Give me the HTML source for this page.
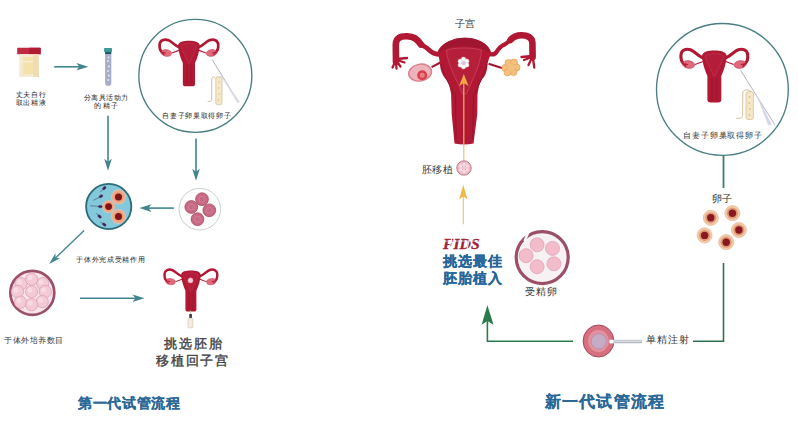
<!DOCTYPE html><html><head><meta charset="utf-8"><style>
html,body{margin:0;padding:0;background:#fff;width:798px;height:444px;overflow:hidden;font-family:"Liberation Sans",sans-serif}
.t{position:absolute;white-space:nowrap;line-height:1}
svg{position:absolute;left:0;top:0}
</style></head><body>
<svg width="798" height="444" viewBox="0 0 798 444">
<defs>
<symbol id="ut" viewBox="388 30 152 118">
  <!-- left tube -->
  <path d="M440,54.5 C435,54.5 431.5,52.5 428.5,49.5 C425.5,46.5 422.5,46 419.5,43" fill="none" stroke="#b01833" stroke-width="4.6" stroke-linecap="round"/>
  <path d="M421,44.5 C417,39 414,36.5 407,36.3 C400,36.1 395.8,38 395.8,45 L396,62" fill="none" stroke="#b01833" stroke-width="6.6" stroke-linecap="round" stroke-linejoin="round"/>
  <path d="M395.5,61 L392.5,67.5 M396,61 L396.5,68.5 M396.5,61 L400.5,66.5 M397,60 L404.5,62.5 M397,59 L407,58" stroke="#b01833" stroke-width="2.3" stroke-linecap="round"/>
  <!-- right tube -->
  <path d="M489,53.7 C492,55 494.5,55 496.5,52 C498.5,49 501,46 504,44.8 C507,43.5 509,41 512,38.5" fill="none" stroke="#b01833" stroke-width="4.2" stroke-linecap="round"/>
  <path d="M510.5,40 C513,37 516,35.2 521.5,35.2 C527,35.2 532.2,37 532.4,43 L532.6,57" fill="none" stroke="#b01833" stroke-width="6.6" stroke-linecap="round" stroke-linejoin="round"/>
  <path d="M532.6,56 L534.3,67.5 M532.3,57 L528.5,65 M532,57 L524,60 M532,56 L521.5,57" stroke="#b01833" stroke-width="2.3" stroke-linecap="round"/>
  <!-- ligaments -->
  <path d="M440.4,62.5 L431.6,67.2" stroke="#a01630" stroke-width="2"/>
  <path d="M488.6,63.8 L503.5,68.5" stroke="#a01630" stroke-width="2"/>
  <!-- ovaries -->
  <ellipse cx="420.1" cy="72.6" rx="11.5" ry="8.4" transform="rotate(-10 420.1 72.6)" fill="#efb4bb" stroke="#d67e8c" stroke-width="1.4"/>
  <circle cx="422.2" cy="75.3" r="5" fill="#d8404e"/>
  <circle cx="422.2" cy="75.3" r="2.5" fill="#ef7e84"/>
  <g fill="#f3c07e" stroke="#e6a460" stroke-width="0.8">
    <circle cx="505.5" cy="68" r="3.6"/><circle cx="508.5" cy="63" r="3.5"/><circle cx="514" cy="62.5" r="3.5"/><circle cx="516.5" cy="67.5" r="3.5"/><circle cx="513.5" cy="72" r="3.5"/><circle cx="507.5" cy="72.5" r="3.4"/><circle cx="511" cy="67.5" r="3.4" stroke="none"/>
  </g>
  <!-- body -->
  <path d="M437.5,52 C440,44 452,37.7 465,37.7 C478,37.7 489,44 491.5,53 C489,58 487.5,62 487.2,67.4 C486.5,73 484.5,77 482.7,78.2 C480.5,81 479,84 477.5,94.5 L477.3,114 L473.5,143.5 Q464,145.5 454.5,143.5 L451.7,114 L451.1,94.5 C450,86 448,81 445,78.2 C442.5,75 441,71 440.3,67.4 C440,62 439,57 437.5,52 Z" fill="#b01833"/>
  <path d="M438.5,51.5 C441,44 452,37.7 465,37.7 C478,37.7 489,44 490.5,52 L484,50 C478,47 470,46 464,46 C456,46 450,47 444,50 Z" fill="#a01631"/>
  <path d="M446.5,50 C452,48.5 458,48 464,48 C470,48 476,48.5 481.5,50 C481,64 472,80 466.5,94 L462.5,94 C457,80 447,64 446.5,50 Z" fill="#b51f3a" stroke="#c8405a" stroke-width="0.9"/>
  <path d="M441,64 C444,76 450,86 455.5,96 L456,140 M487,64 C484,76 478,86 473.5,96 L472.5,140" fill="none" stroke="#961430" stroke-width="1"/>
</symbol>
<symbol id="ut2" viewBox="677 46 75 58">
  <g id="ut2half">
  <path d="M703.5,58 C699,57 695,51.5 690.5,49.8 C686,48.4 681.5,50 681,54.5 C680.6,58.5 681.3,61.8 684,64" fill="none" stroke="#b01833" stroke-width="3.1" stroke-linecap="round"/>
  <path d="M703,61.5 L695,64.5" stroke="#b01833" stroke-width="1.3"/>
  <ellipse cx="688.6" cy="64.5" rx="6" ry="3.8" transform="rotate(8 688.6 64.5)" fill="#e06a7a" stroke="#c44058" stroke-width="0.7"/>
  <path d="M683,63.5 L686,66.5 M683,63.5 L687.5,64.5" stroke="#b01833" stroke-width="1.2" stroke-linecap="round"/>
  </g>
  <use href="#ut2half" transform="translate(1428.7 0) scale(-1 1)"/>
  <path d="M702,55.5 C703,51.5 708,50.5 714.35,50.5 C720.7,50.5 725.7,51.5 726.7,55.5 C726.5,63 724,70 721.3,76 L721.3,99.5 Q721.5,102.5 718,102.5 L710.7,102.5 Q707.2,102.5 707.4,99.5 L707.4,76 C704.7,70 702.2,63 702,55.5 Z" fill="#b01833"/>
  <path d="M705,56 C708,54 712,53.5 714.35,53.5 C716.7,53.5 720.7,54 723.7,56 C722,63 717,70 715.2,76 L713.5,76 C711.7,70 706.7,63 705,56 Z" fill="#b41d3a" stroke="#c8405a" stroke-width="0.5"/>
  <path d="M712,78 L712,100 M716.7,78 L716.7,100" stroke="#951430" stroke-width="0.7"/>
</symbol>
<symbol id="embryo" viewBox="-8 -8 16 16">
  <circle r="7.2" fill="#f2bfcc" stroke="#b86a80" stroke-width="0.9"/>
  <g fill="#fae4ea" stroke="#e4a4b6" stroke-width="0.4">
  <circle cx="0" cy="-3.7" r="1.9"/><circle cx="3.2" cy="-1.85" r="1.9"/><circle cx="3.2" cy="1.85" r="1.9"/><circle cx="0" cy="3.7" r="1.9"/><circle cx="-3.2" cy="1.85" r="1.9"/><circle cx="-3.2" cy="-1.85" r="1.9"/>
  </g>
  <circle r="1.7" fill="#f4c8d4"/>
</symbol>
<symbol id="flower" viewBox="-8 -8 16 16">
  <g fill="#fff" stroke="#e6c8d4" stroke-width="0.5">
  <circle cx="0" cy="-4" r="2.4"/><circle cx="3.46" cy="-2" r="2.4"/><circle cx="3.46" cy="2" r="2.4"/><circle cx="0" cy="4" r="2.4"/><circle cx="-3.46" cy="2" r="2.4"/><circle cx="-3.46" cy="-2" r="2.4"/>
  </g>
  <circle r="2.4" fill="#d8c8dc"/>
</symbol>
<radialGradient id="eggglow"><stop offset="0.45" stop-color="#ec9470"/><stop offset="0.8" stop-color="#f0ae8c"/><stop offset="1" stop-color="#f2c4ae" stop-opacity="0.6"/></radialGradient>
</defs>

<line x1="54.20" y1="66.80" x2="79.90" y2="66.80" stroke="#43858f" stroke-width="1.6"/><path d="M88.40,66.80 L76.40,70.60 L79.40,66.80 L76.40,63.00 Z" fill="#43858f"/><line x1="108.00" y1="115.80" x2="108.00" y2="162.30" stroke="#43858f" stroke-width="1.6"/><path d="M108.00,170.80 L104.20,158.80 L108.00,161.80 L111.80,158.80 Z" fill="#43858f"/><line x1="196.00" y1="138.60" x2="196.00" y2="172.20" stroke="#43858f" stroke-width="1.6"/><path d="M196.00,180.70 L192.20,168.70 L196.00,171.70 L199.80,168.70 Z" fill="#43858f"/><line x1="173.90" y1="208.10" x2="147.90" y2="208.10" stroke="#43858f" stroke-width="1.6"/><path d="M139.40,208.10 L151.40,204.30 L148.40,208.10 L151.40,211.90 Z" fill="#43858f"/><line x1="84.10" y1="230.60" x2="55.24" y2="258.22" stroke="#43858f" stroke-width="1.35"/><path d="M49.10,264.10 L55.42,253.35 L55.60,257.88 L60.12,258.26 Z" fill="#43858f"/><line x1="80.00" y1="298.20" x2="136.00" y2="298.20" stroke="#43858f" stroke-width="1.6"/><path d="M144.50,298.20 L132.50,302.00 L135.50,298.20 L132.50,294.40 Z" fill="#43858f"/>
<!-- ===== LEFT HALF ===== -->
<!-- cup -->
<rect x="17.2" y="47.8" width="23.5" height="6.5" rx="0.6" fill="#c02a40"/>
<rect x="29" y="47.8" width="11.7" height="6.5" rx="0.6" fill="#b01a32"/>
<rect x="19.3" y="54.3" width="19.6" height="22.6" fill="#f5ead0"/>
<rect x="23" y="57" width="10" height="17" fill="#f3e3aa"/>
<rect x="33" y="55" width="5.9" height="21.9" fill="#f0dcb4"/>
<rect x="20" y="61" width="13" height="1.2" fill="#f8f0dc"/>
<!-- tube -->
<rect x="104.1" y="48.1" width="7.9" height="3.9" rx="0.6" fill="#3a9a98"/>
<rect x="105" y="52" width="6.3" height="2.2" fill="#1f5866"/>
<path d="M105.1,54 L111.3,54 L111.3,83 Q111.3,86 108.2,86 Q105.1,86 105.1,83 Z" fill="#a9aec8"/>
<g fill="#e8ecf4"><circle cx="108.5" cy="57.5" r="0.9"/><circle cx="108" cy="61" r="0.9"/><circle cx="108.8" cy="66.5" r="0.9"/><circle cx="108" cy="71" r="0.9"/><circle cx="108.8" cy="75.5" r="0.9"/><circle cx="108.2" cy="80" r="0.9"/></g>
<!-- left circle -->
<circle cx="195.35" cy="75.85" r="56.5" fill="none" stroke="#4a7e82" stroke-width="1.35"/>
<use href="#ut2" x="156.1" y="36.75" width="65.9" height="50.9"/>
<!-- syringe in circle -->
<line x1="212.2" y1="59.7" x2="238.3" y2="102" stroke="#a8acb8" stroke-width="0.9"/>
<path d="M215.8,67.8 L240,102 L237.5,103 Z" fill="#d8dce4"/>
<rect x="215.8" y="76.8" width="6.2" height="28" rx="2" fill="#f4e8c8" stroke="#c8b488" stroke-width="0.6"/>
<g fill="#e0b878"><circle cx="219" cy="82" r="0.7"/><circle cx="218.5" cy="88" r="0.7"/><circle cx="219.2" cy="94" r="0.7"/><circle cx="218.6" cy="100" r="0.7"/></g>
<path d="M215.5,78 Q212.5,75 211.8,79 L211.6,100 Q211.3,102 207.7,101.5" fill="none" stroke="#c8b488" stroke-width="0.8"/>
<!-- fertilization dish -->
<circle cx="108.7" cy="206.5" r="22.6" fill="#84c8dc" stroke="#2c6a76" stroke-width="1.8"/>
<circle cx="118.5" cy="196.9" r="7.6" fill="url(#eggglow)"/><circle cx="118.5" cy="196.9" r="3.5" fill="#7e1418"/>
<circle cx="108.6" cy="206.6" r="6.6" fill="url(#eggglow)"/><circle cx="108.6" cy="206.6" r="3.4" fill="#7e1418"/>
<circle cx="118.5" cy="216.5" r="7.6" fill="url(#eggglow)"/><circle cx="118.5" cy="216.5" r="3.5" fill="#7e1418"/>
<g stroke="#3a3050" stroke-width="0.5" fill="#4a2050">
<path d="M100.3,192.2 L103.3,189.1"/><ellipse cx="104.3" cy="188.1" rx="2" ry="1.2" transform="rotate(-45 104.3 188.1)"/>
<path d="M93.5,200.3 L100,197"/><ellipse cx="101" cy="196.2" rx="2" ry="1.2" transform="rotate(-30 101 196.2)"/>
<path d="M90.1,205.7 L98.5,206.4"/><ellipse cx="100.3" cy="206.6" rx="2" ry="1.2"/>
<path d="M96.2,213.1 L98.5,215.5"/><ellipse cx="99.6" cy="216.5" rx="2" ry="1.2" transform="rotate(40 99.6 216.5)"/>
<path d="M100.3,221.9 L103,223.8"/><ellipse cx="104.3" cy="224.6" rx="2" ry="1.2" transform="rotate(35 104.3 224.6)"/>
</g>
<!-- egg dish -->
<circle cx="199.8" cy="209.2" r="20.8" fill="#fff" stroke="#c8d0d0" stroke-width="1"/>
<g fill="#c86a84" stroke="#a44c66" stroke-width="0.8">
<circle cx="202" cy="199.2" r="6.4"/><circle cx="191.3" cy="207" r="6.4"/><circle cx="209.3" cy="210.3" r="6.4"/><circle cx="197.5" cy="219.2" r="6.4"/>
</g>
<g fill="none" stroke="#d88ca2" stroke-width="0.6">
<circle cx="202" cy="199.2" r="3"/><circle cx="191.3" cy="207" r="3"/><circle cx="209.3" cy="210.3" r="3"/><circle cx="197.5" cy="219.2" r="3"/>
</g>
<!-- morula -->
<circle cx="32.3" cy="292.8" r="22" fill="#f8e4ea" stroke="#9a5068" stroke-width="2.7"/>
<g fill="#f3cad6" stroke="#d89aae" stroke-width="0.7">
<circle cx="21.1" cy="283.6" r="6.1"/><circle cx="42.8" cy="283.6" r="6.1"/><circle cx="31.6" cy="279.3" r="6.1"/>
<circle cx="17.4" cy="291.6" r="6.2"/><circle cx="45.3" cy="291.6" r="6.2"/>
<circle cx="20.5" cy="302.2" r="6.1"/><circle cx="42.2" cy="301.6" r="6.1"/><circle cx="31.6" cy="304.7" r="6.1"/>
<circle cx="31.6" cy="291.6" r="6.1"/>
</g>
<g fill="#fae0e8" opacity="0.8">
<circle cx="19.5" cy="282" r="2.5"/><circle cx="41" cy="282" r="2.5"/><circle cx="30" cy="277.5" r="2.5"/><circle cx="16" cy="290" r="2.5"/><circle cx="43.5" cy="290" r="2.5"/><circle cx="19" cy="300.5" r="2.5"/><circle cx="40.5" cy="300" r="2.5"/><circle cx="30" cy="303" r="2.5"/><circle cx="30" cy="290" r="2.5"/>
</g>
<!-- bottom left uterus -->
<use href="#ut2" x="161.4" y="267" width="59.25" height="45.8"/><circle cx="190.5" cy="280.4" r="2.6" fill="#f4d0d8" stroke="#d87888" stroke-width="0.6"/><line x1="190.5" y1="310.5" x2="190.5" y2="315" stroke="#c8c0b8" stroke-width="0.8"/>
<rect x="189.3" y="314" width="2.6" height="4" fill="#3a3a40"/><rect x="188" y="318.3" width="5" height="9.5" rx="1" fill="#f4ece0" stroke="#cdbba5" stroke-width="0.5"/>

<!-- ===== RIGHT HALF ===== -->
<use href="#ut" x="388" y="30" width="152" height="118"/>
<use href="#flower" x="456" y="55.5" width="15" height="15"/>
<!-- yellow arrow in uterus -->
<line x1="463.8" y1="160.5" x2="463.8" y2="82" stroke="#f6b870" stroke-width="1.15"/>
<path d="M463.8,74 L468.6,86 L463.8,83 L459,86 Z" fill="#f3a848"/>
<use href="#embryo" x="456" y="160" width="16" height="16"/>
<!-- yellow arrow 2 -->
<line x1="463.3" y1="224.3" x2="463.3" y2="195" stroke="#eec070" stroke-width="1.15"/>
<path d="M463.3,184.7 L467.4,199.3 L463.3,196.5 L459.2,199.3 Z" fill="#f0b848"/>

<!-- red glitch text -->
<g>
<text x="443" y="248.6" font-family="Liberation Serif" font-weight="bold" font-style="italic" font-size="15.5" fill="#9e2434" stroke="#9e2434" stroke-width="0.3" textLength="36.6" lengthAdjust="spacingAndGlyphs">FIDS</text>
<path d="M452,237 L449,249 M461,237 L458,249 M470,237 L467,249" stroke="#fff" stroke-width="1.1" opacity="0.9"/>
<rect x="442" y="240.6" width="40" height="0.9" fill="#fff" opacity="0.7"/>
</g>
<!-- zygote dish -->
<circle cx="542.2" cy="257.6" r="26" fill="#f6f2f4" stroke="#9c5068" stroke-width="3.2"/>
<path d="M528.5,232 L524.5,241" stroke="#fff" stroke-width="2.4"/>
<g fill="#f2bccb" stroke="#e09ab0" stroke-width="0.7">
<circle cx="537.1" cy="244.8" r="7"/><circle cx="552.5" cy="248.4" r="7"/><circle cx="526.1" cy="255.7" r="7"/>
<circle cx="537.1" cy="266.7" r="7"/><circle cx="553.9" cy="263.8" r="7"/>
</g>

<!-- green path -->
<path d="M723.5,263 L723.5,341.2 L693,341.2" fill="none" stroke="#2e7050" stroke-width="1.6"/>
<path d="M573,341.2 L487.4,341.2 L487.4,320" fill="none" stroke="#2e7a50" stroke-width="1.6"/>
<path d="M487.4,305.3 L493.5,324.7 L487.4,321 L481.6,324.7 Z" fill="#2a7a4c"/>
<!-- egg injection -->
<ellipse cx="598.5" cy="341" rx="15.4" ry="16" fill="#d6707f" stroke="#a04860" stroke-width="1"/>
<ellipse cx="598.5" cy="341" rx="10.5" ry="11" fill="#e490a0"/>
<circle cx="598.8" cy="341.3" r="7.6" fill="#c4acc4" stroke="#a888a8" stroke-width="0.6"/>
<rect x="610" y="339.8" width="32" height="3.5" fill="#b8bcc4"/>
<rect x="610" y="340.5" width="32" height="1.2" fill="#dfe2e8"/>
<rect x="609.5" y="339.8" width="4" height="3.5" fill="#fff"/>
<!-- right circle -->
<circle cx="722.4" cy="89.4" r="65.9" fill="none" stroke="#4a7e82" stroke-width="1.35"/>
<use href="#ut2" x="677" y="46" width="75" height="58"/>
<line x1="740.6" y1="70.3" x2="774.8" y2="124.8" stroke="#a8acb8" stroke-width="0.9"/>
<path d="M755.6,92.8 L772,125 L768,125 Z" fill="#d4d8e6"/>
<rect x="746" y="91.7" width="7.4" height="27.8" rx="2" fill="#f4e8c8" stroke="#c8b488" stroke-width="0.6"/>
<g fill="#e0a860"><circle cx="749.7" cy="97" r="0.8"/><circle cx="749.2" cy="103" r="0.8"/><circle cx="750" cy="109" r="0.8"/><circle cx="749.4" cy="115" r="0.8"/></g>
<path d="M751,92 Q747,87.5 742.8,91.7 L742.6,116.5 Q742.3,118.5 736.3,118.4" fill="none" stroke="#c8b488" stroke-width="0.8"/>
<line x1="723.5" y1="155.7" x2="723.5" y2="188" stroke="#3a7e6c" stroke-width="1.8"/>
<!-- eggs -->
<g>
<circle cx="710.8" cy="217.8" r="7.6" fill="#f2cba8" stroke="#e0a888" stroke-width="0.5"/><circle cx="710.8" cy="217.8" r="5.6" fill="#df9a78"/><circle cx="710.8" cy="217.8" r="3.7" fill="#8a1820"/>
<circle cx="732.4" cy="213.2" r="7.6" fill="#f2cba8" stroke="#e0a888" stroke-width="0.5"/><circle cx="732.4" cy="213.2" r="5.6" fill="#df9a78"/><circle cx="732.4" cy="213.2" r="3.7" fill="#8a1820"/>
<circle cx="738.9" cy="230" r="7.6" fill="#f2cba8" stroke="#e0a888" stroke-width="0.5"/><circle cx="738.9" cy="230" r="5.6" fill="#df9a78"/><circle cx="738.9" cy="230" r="3.7" fill="#8a1820"/>
<circle cx="704.6" cy="235.4" r="7.6" fill="#f2cba8" stroke="#e0a888" stroke-width="0.5"/><circle cx="704.6" cy="235.4" r="5.6" fill="#df9a78"/><circle cx="704.6" cy="235.4" r="3.7" fill="#8a1820"/>
<circle cx="726.2" cy="242.2" r="7.6" fill="#f2cba8" stroke="#e0a888" stroke-width="0.5"/><circle cx="726.2" cy="242.2" r="5.6" fill="#df9a78"/><circle cx="726.2" cy="242.2" r="3.7" fill="#8a1820"/>
</g>
</svg>

<div class="t" style="left:15.5px;top:91.8px;font-size:6.8px;letter-spacing:0.9px;font-weight:500;color:#1a1a1a;">丈夫自行</div><div class="t" style="left:15.5px;top:99.6px;font-size:6.8px;letter-spacing:0.9px;font-weight:500;color:#1a1a1a;">取出精液</div><div class="t" style="left:84.1px;top:94.8px;font-size:6.8px;letter-spacing:0.4px;font-weight:500;color:#1a1a1a;">分离具活动力</div><div class="t" style="left:93.9px;top:102.8px;font-size:6.8px;letter-spacing:1.8px;font-weight:500;color:#1a1a1a;">的精子</div><div class="t" style="left:162.2px;top:113.0px;font-size:6.9px;letter-spacing:0.7px;font-weight:500;color:#1a1a1a;">自妻子卵巢取得卵子</div><div class="t" style="left:76.2px;top:256.6px;font-size:6.9px;letter-spacing:0.7px;font-weight:500;color:#1a1a1a;">于体外完成受精作用</div><div class="t" style="left:4.2px;top:337.0px;font-size:8.2px;letter-spacing:0.5px;font-weight:500;color:#333;">于体外培养数目</div><div class="t" style="left:164.1px;top:337.0px;font-size:13.2px;letter-spacing:1.9px;font-weight:normal;color:#444;-webkit-text-stroke:0.4px #444">挑选胚胎</div><div class="t" style="left:156.3px;top:354.2px;font-size:13.2px;letter-spacing:1.7px;font-weight:normal;color:#444;-webkit-text-stroke:0.4px #444">移植回子宫</div><div class="t" style="left:78.2px;top:396.8px;font-size:13.6px;letter-spacing:0.6px;font-weight:bold;color:#2a6898;-webkit-text-stroke:0.15px #2a6898">第一代试管流程</div><div class="t" style="left:454.6px;top:18.8px;font-size:10.2px;letter-spacing:0.0px;font-weight:500;color:#333;">子宫</div><div class="t" style="left:422.1px;top:165.0px;font-size:10.2px;letter-spacing:0.3px;font-weight:500;color:#333;">胚移植</div><div class="t" style="left:442.5px;top:255.0px;font-size:13.8px;letter-spacing:1.2px;font-weight:bold;color:#26669a;-webkit-text-stroke:0.25px #26669a">挑选最佳</div><div class="t" style="left:442.5px;top:271.6px;font-size:13.8px;letter-spacing:1.2px;font-weight:bold;color:#26669a;-webkit-text-stroke:0.25px #26669a">胚胎植入</div><div class="t" style="left:524.6px;top:286.8px;font-size:9.8px;letter-spacing:1.3px;font-weight:500;color:#333;">受精卵</div><div class="t" style="left:646.0px;top:335.4px;font-size:10.0px;letter-spacing:0.9px;font-weight:500;color:#333;">单精注射</div><div class="t" style="left:683.0px;top:132.4px;font-size:8.0px;letter-spacing:0.9px;font-weight:500;color:#333;">自妻子卵巢取得卵子</div><div class="t" style="left:711.8px;top:193.8px;font-size:9.8px;letter-spacing:0.5px;font-weight:500;color:#333;">卵子</div><div class="t" style="left:544.5px;top:394.4px;font-size:15.8px;letter-spacing:1.3px;font-weight:bold;color:#2a6898;-webkit-text-stroke:0.15px #2a6898">新一代试管流程</div>
</body></html>
